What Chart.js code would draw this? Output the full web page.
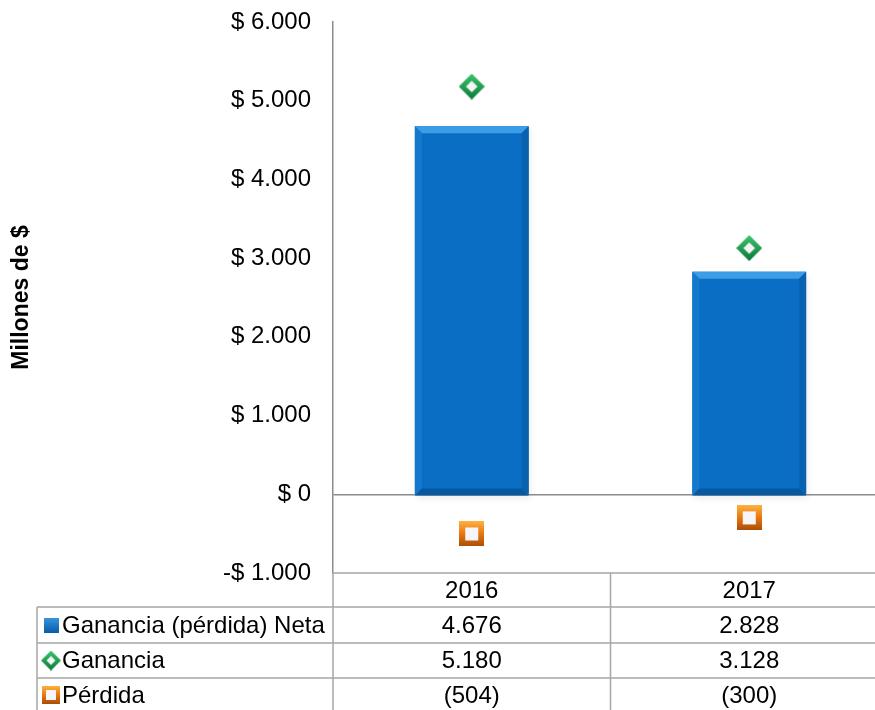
<!DOCTYPE html>
<html>
<head>
<meta charset="utf-8">
<script src="https://cdn.jsdelivr.net/npm/chart.js@4.4.0/dist/chart.umd.min.js"></script>
<style>
  html, body { margin: 0; background: #fff; overflow: hidden; width: 875px; height: 710px; }
  canvas { display: block; }
</style>
</head>
<body>
<canvas id="grafico" width="902" height="710"></canvas>
<script>
var categorias = ["2016", "2017"];
var netaValores = [4676, 2828];
var gananciaValores = [5180, 3128];
var perdidaValores = [-504, -300];
var serieNombres = ["Ganancia (pérdida) Neta", "Ganancia", "Pérdida"];
var yMin = -1000, yMax = 6000, yPaso = 1000;

var fuente = "'Liberation Sans', Arial, sans-serif";

function miles(v) {
  return String(Math.abs(v)).replace(/\B(?=(\d{3})+(?!\d))/g, ".");
}
function formatoTabla(v) {
  return v < 0 ? "(" + miles(v) + ")" : miles(v);
}

// marcadores con relieve
function hacerRombo(r) {
  var c = document.createElement("canvas");
  c.width = c.height = r * 2;
  var g = c.getContext("2d");
  var grad = g.createLinearGradient(0, 0, 0, r * 2);
  grad.addColorStop(0, "#3cc46e");
  grad.addColorStop(1, "#0a7a38");
  g.fillStyle = grad;
  g.beginPath();
  g.moveTo(r, 0); g.lineTo(r * 2, r); g.lineTo(r, r * 2); g.lineTo(0, r); g.closePath();
  g.fill();
  var ri = r * 0.45;
  g.fillStyle = "#f4f4f4";
  g.beginPath();
  g.moveTo(r, r - ri); g.lineTo(r + ri, r); g.lineTo(r, r + ri); g.lineTo(r - ri, r); g.closePath();
  g.fill();
  return c;
}
function hacerCuadro(s) {
  var c = document.createElement("canvas");
  c.width = c.height = s;
  var g = c.getContext("2d");
  var grad = g.createLinearGradient(0, 0, 0, s);
  grad.addColorStop(0, "#ffb040");
  grad.addColorStop(0.5, "#e8760f");
  grad.addColorStop(1, "#a84e08");
  g.fillStyle = grad;
  g.fillRect(0, 0, s, s);
  var b = Math.round(s * 0.24);
  g.fillStyle = "#f6f6f8";
  g.fillRect(b, b, s - 2 * b, s - 2 * b);
  return c;
}
function hacerBarraIcono(s) {
  var c = document.createElement("canvas");
  c.width = c.height = s;
  var g = c.getContext("2d");
  var grad = g.createLinearGradient(0, 0, 0, s);
  grad.addColorStop(0, "#3a96e0");
  grad.addColorStop(1, "#0a5ea8");
  g.fillStyle = grad;
  g.fillRect(0, 0, s, s);
  return c;
}

var romboGrande = hacerRombo(13);
var cuadroGrande = hacerCuadro(25);
var iconos = [hacerBarraIcono(15), hacerRombo(10), hacerCuadro(18)];

var colorLinea = "#a6a6a6";

// sombra y bisel de las barras
var biselBarras = {
  id: "biselBarras",
  beforeDatasetDraw: function (chart, args) {
    if (args.meta.type !== "bar") return;
    var ctx = chart.ctx;
    ctx.save();
    args.meta.data.forEach(function (b) {
      var w = b.width, l = b.x - w / 2;
      ctx.fillStyle = "rgba(0,0,0,0.18)";
      ctx.shadowColor = "rgba(0,0,0,0.35)";
      ctx.shadowBlur = 6;
      ctx.shadowOffsetX = 2;
      ctx.shadowOffsetY = 3;
      ctx.fillRect(l, b.y, w, b.base - b.y + 2);
    });
    ctx.restore();
  },
  afterDatasetDraw: function (chart, args) {
    if (args.meta.type !== "bar") return;
    var ctx = chart.ctx;
    var e = 7;
    ctx.save();
    args.meta.data.forEach(function (b) {
      var w = b.width, l = b.x - w / 2, r = b.x + w / 2, t = b.y, bo = b.base + 2;
      function poly(pts, col) {
        ctx.fillStyle = col;
        ctx.beginPath();
        ctx.moveTo(pts[0], pts[1]);
        for (var i = 2; i < pts.length; i += 2) ctx.lineTo(pts[i], pts[i + 1]);
        ctx.closePath();
        ctx.fill();
      }
      poly([l, t, r, t, r - e, t + e, l + e, t + e], "#3c9ce6");
      poly([l, t, l + e, t + e, l + e, bo - e, l, bo], "#1479cc");
      poly([r, t, r, bo, r - e, bo - e, r - e, t + e], "#0962ad");
      poly([l, bo, l + e, bo - e, r - e, bo - e, r, bo], "#0858a0");
    });
    ctx.restore();
  }
};

var tablaDatos = {
  id: "tablaDatos",
  afterDraw: function (chart) {
    var ctx = chart.ctx;
    var area = chart.chartArea;
    var x = chart.scales.x;
    var ancho = (area.right - area.left) / categorias.length;
    var filas = [573, 607, 643, 678, 712];
    var izq = 37;
    var series = [netaValores, gananciaValores, perdidaValores];
    ctx.save();
    ctx.strokeStyle = colorLinea;
    ctx.lineWidth = 1.5;
    ctx.beginPath();
    ctx.moveTo(area.left, filas[0]); ctx.lineTo(area.right, filas[0]);
    for (var i = 1; i < filas.length; i++) {
      ctx.moveTo(izq, filas[i]); ctx.lineTo(area.right, filas[i]);
    }
    ctx.moveTo(izq, filas[1]); ctx.lineTo(izq, filas[4]);
    for (var k = 0; k <= categorias.length; k++) {
      var xv = area.left + k * ancho;
      ctx.moveTo(xv, filas[0]); ctx.lineTo(xv, filas[4]);
    }
    ctx.stroke();

    ctx.fillStyle = "#000";
    ctx.font = "24px " + fuente;
    ctx.textBaseline = "middle";
    ctx.textAlign = "center";
    categorias.forEach(function (c, j) {
      var cx = x.getPixelForValue(j);
      ctx.fillText(c, cx, (filas[0] + filas[1]) / 2 + 1);
      series.forEach(function (s, r) {
        ctx.fillText(formatoTabla(s[j]), cx, (filas[r + 1] + filas[r + 2]) / 2 + 1);
      });
    });
    ctx.textAlign = "left";
    serieNombres.forEach(function (n, r) {
      var cy = (filas[r + 1] + filas[r + 2]) / 2;
      var ic = iconos[r];
      ctx.drawImage(ic, 51 - ic.width / 2, cy - ic.height / 2);
      ctx.fillText(n, 62, cy + 1);
    });
    ctx.restore();
  }
};

var ctx = document.getElementById("grafico");
var grafico = new Chart(ctx, {
  type: "bar",
  data: {
    labels: categorias,
    datasets: [
      {
        type: "line",
        label: serieNombres[1],
        data: gananciaValores,
        showLine: false,
        pointStyle: romboGrande,
        pointRadius: 13,
        order: 0
      },
      {
        type: "line",
        label: serieNombres[2],
        data: perdidaValores,
        showLine: false,
        pointStyle: cuadroGrande,
        pointRadius: 13,
        order: 0
      },
      {
        type: "bar",
        label: serieNombres[0],
        data: netaValores,
        backgroundColor: "#0a6fc4",
        borderWidth: 0,
        categoryPercentage: 1,
        barPercentage: 0.41,
        order: 1
      }
    ]
  },
  options: {
    responsive: false,
    animation: false,
    layout: { padding: { top: 22, right: 0, bottom: 137, left: 0 } },
    plugins: {
      legend: { display: false },
      tooltip: { enabled: false }
    },
    scales: {
      x: { display: false },
      y: {
        min: yMin,
        max: yMax,
        afterFit: function (s) { s.width = 333; },
        ticks: {
          stepSize: yPaso,
          padding: 0,
          color: "#000",
          font: { family: fuente, size: 24 },
          callback: function (v) { return (v < 0 ? "-$ " : "$ ") + miles(v); }
        },
        grid: {
          drawTicks: true,
          tickLength: 22,
          tickColor: "rgba(0,0,0,0)",
          lineWidth: 1.5,
          color: function (c) { return c.tick && c.tick.value === 0 ? "#8c8c8c" : "rgba(0,0,0,0)"; }
        },
        border: { display: true, color: "#8c8c8c", width: 1.5 },
        title: {
          display: true,
          text: "Millones de $",
          color: "#000",
          padding: { top: 8, bottom: 0 },
          font: { family: fuente, size: 23, weight: "bold" }
        }
      }
    }
  },
  plugins: [biselBarras, tablaDatos]
});
</script>
</body>
</html>
